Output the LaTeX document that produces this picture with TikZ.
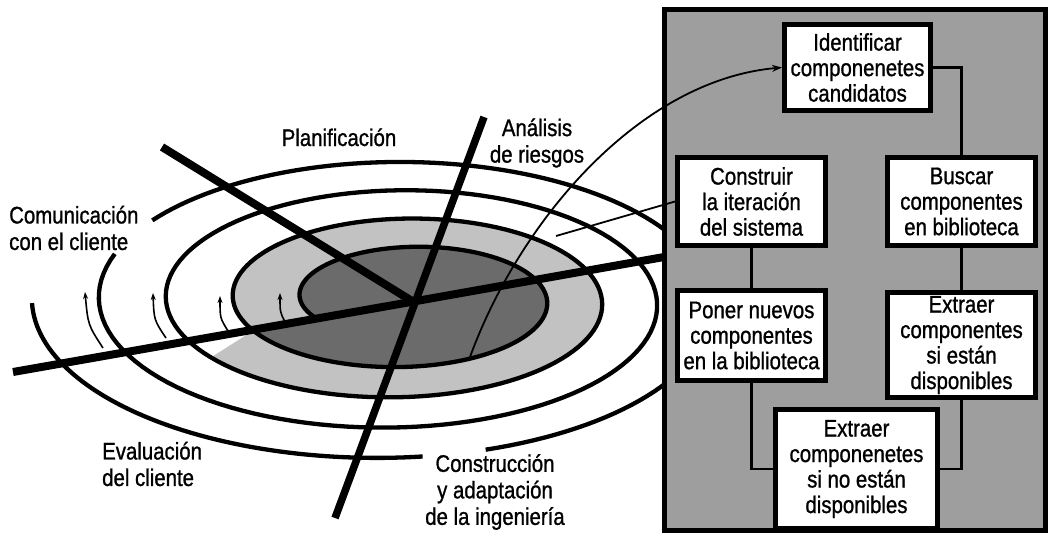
\documentclass[tikz,border=0pt]{standalone}
\usepackage{fontspec}
\setmainfont{Liberation Sans}[FakeStretch=0.85,FakeBold=1]
\usetikzlibrary{arrows.meta}
\definecolor{ringlight}{gray}{0.76}
\definecolor{ringdark}{gray}{0.42}
\definecolor{boxgray}{gray}{0.62}
\newcommand\SpX[1]{(409.75-0.0166667*(#1)-(109.75+0.169444*(#1))*cos(#1))}
\newcommand\SpY[1]{(299.1+0.0027778*(#1)-(45.1+0.0813889*(#1))*sin(#1))}
\tikzset{
  spiralline/.style={line width=4.3pt, line join=round},
  radial/.style={line width=8pt},
  smallarrow/.style={line width=1.6pt, -{Stealth[length=7pt,width=5pt]}},
  thinconn/.style={line width=1.8pt},
  boxconn/.style={line width=2.4pt},
  cbox/.style={draw, line width=5pt, fill=white, inner sep=0pt, align=center,
    font=\fontsize{24}{25.5}\selectfont},
  lbl/.style={inner sep=0pt, font=\fontsize{24}{26.5}\selectfont},
}
\begin{document}
\begin{tikzpicture}[x=1pt,y=-1pt]
\useasboundingbox (0,0) rectangle (1051,535);
% shaded regions of the spiral
\fill[ringlight] plot[domain=335:686,samples=200,variable=\t] ({\SpX{\t}},{\SpY{\t}}) -- cycle;
\fill[ringdark] plot[domain=-25:335,samples=200,variable=\t] ({\SpX{\t}},{\SpY{\t}}) -- cycle;
% spiral
\draw[spiralline] plot[domain=-25:1101,samples=400,variable=\t] ({\SpX{\t}},{\SpY{\t}});
\draw[spiralline] plot[domain=1117:1333,samples=100,variable=\t] ({\SpX{\t}},{\SpY{\t}});
\draw[spiralline] plot[domain=1344:1440,samples=60,variable=\t] ({\SpX{\t}},{\SpY{\t}});
% small direction arrows
\draw[smallarrow] (103,348) .. controls (88,325) .. (85,292);
\draw[smallarrow] (166,338) .. controls (154,320) .. (153,293);
\draw[smallarrow] (228,331) .. controls (220,318) .. (220,296);
\draw[smallarrow] (285,322) .. controls (280,312) .. (280,293);
% radial lines
\coordinate (ctr) at (413,301.6);
\draw[radial] (13,372) -- (ctr) -- (664,257);
\draw[radial] (162,147) -- (ctr);
\draw[radial, line width=7.5pt] (484,117) -- (335,518);
% outer frame
\node[draw, line width=5pt, fill=boxgray, inner sep=0pt, minimum width=381pt, minimum height=521pt] (frame) at (855,270) {};
% boxes
\node[cbox, minimum width=146pt, minimum height=86pt] (ident) at (857.5,67.5) {Identificar\\componenetes\\candidatos};
\node[cbox, minimum width=148pt, minimum height=88pt] (constr) at (751.5,201.5) {Construir\\la iteración\\del sistema};
\node[cbox, minimum width=148pt, minimum height=88pt] (busc) at (961.5,201.5) {Buscar\\componentes\\en biblioteca};
\node[cbox, minimum width=148pt, minimum height=90pt] (poner) at (751.5,335.5) {Poner nuevos\\componentes\\en la biblioteca};
\node[cbox, minimum width=148pt, minimum height=105pt] (ext1) at (961.5,345) {Extraer\\componentes\\si están\\disponibles};
\node[cbox, minimum width=162pt, minimum height=119pt] (ext2) at (856.5,469) {Extraer\\componenetes\\si no están\\disponibles};
% flow connectors
\draw[boxconn] (ident.east) -| (busc.north);
\draw[boxconn] (busc.south) -- (ext1.north);
\draw[boxconn] (ext1.south) |- (ext2.east);
\draw[boxconn] (ext2.west) -| (poner.south);
\draw[boxconn] (poner.north) -- (constr.south);
% thin connectors from spiral
\coordinate (s1) at (470,357);
\coordinate (s2) at (556,236);
\draw[thinconn, -{Stealth[length=10pt,width=7pt]}] (s1) .. controls (520,220) and (640,80) .. (ident.west);
\draw[thinconn] (s2) -- (constr.west);
% labels
\node[lbl, anchor=west, align=left] (lcom) at (9,228) {Comunicación\\con el cliente};
\node[lbl, anchor=base] (lplan) at (339,146) {Planificación};
\node[lbl, align=center] (lanal) at (537,143) {Análisis\\de riesgos};
\node[lbl, align=left, anchor=west] (leval) at (102,464) {Evaluación\\del cliente};
\node[lbl, align=center] (lcons) at (495,492) {Construcción\\y adaptación\\de la ingeniería};
\end{tikzpicture}
\end{document}
